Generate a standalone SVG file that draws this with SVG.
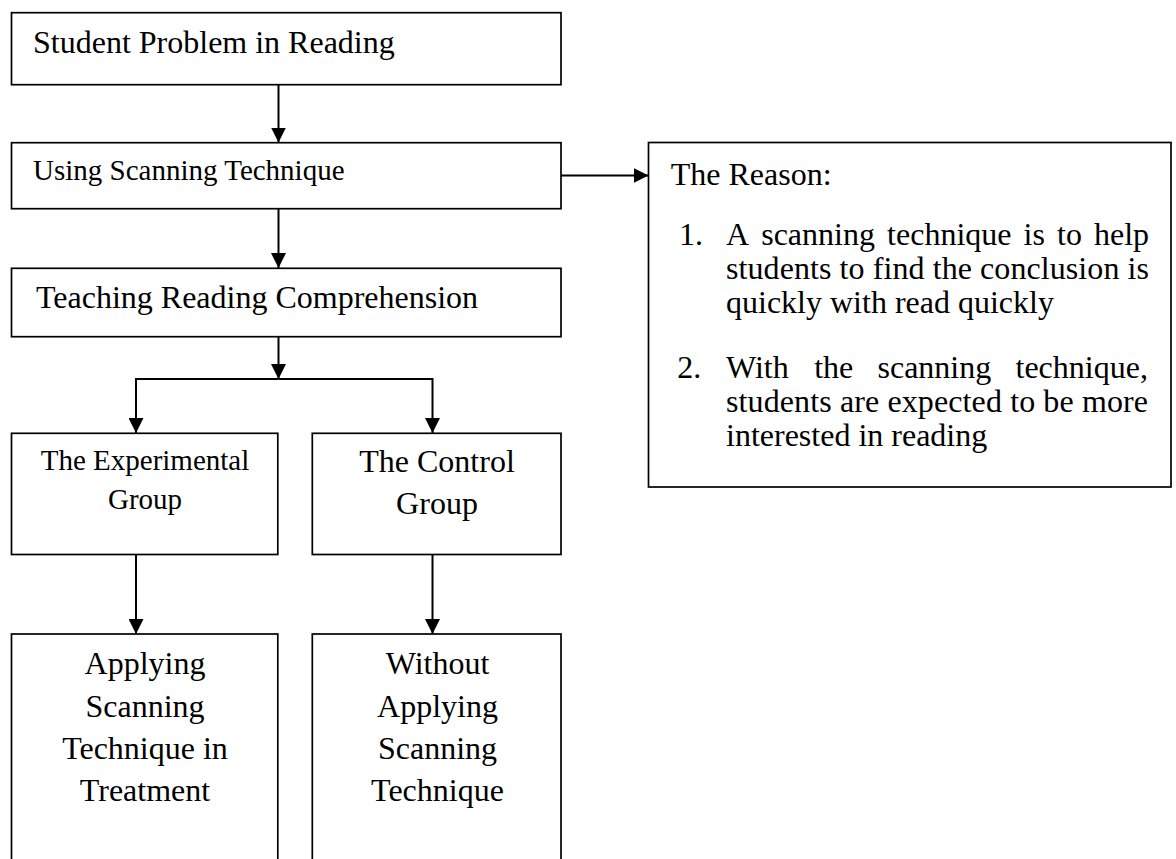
<svg xmlns="http://www.w3.org/2000/svg" width="1176" height="859" viewBox="0 0 1176 859">
<style>
.box{fill:#fff;stroke:#000;stroke-width:1.7}
.con{fill:none;stroke:#000;stroke-width:2}
text{font-family:"Liberation Serif","Times New Roman",serif;fill:#000;font-size:32px}
.s29{font-size:29px}
.c{text-anchor:middle}
</style>
<defs>
<marker id="ah" markerUnits="userSpaceOnUse" markerWidth="16" markerHeight="15" refX="15" refY="7.5" orient="auto">
<path d="M0,0 L15,7.5 L0,15 z" fill="#000"/>
</marker>
</defs>
<rect width="1176" height="859" fill="#fff"/>
<g id="connectors">
<line class="con" x1="278.5" y1="85" x2="278.5" y2="142.5" marker-end="url(#ah)"/>
<line class="con" x1="278.5" y1="209" x2="278.5" y2="268" marker-end="url(#ah)"/>
<line class="con" x1="278.5" y1="337" x2="278.5" y2="379" marker-end="url(#ah)"/>
<path class="con" d="M278.5,379 H136 V433" marker-end="url(#ah)"/>
<path class="con" d="M278.5,379 H432.5 V433" marker-end="url(#ah)"/>
<line class="con" x1="136" y1="555" x2="136" y2="634" marker-end="url(#ah)"/>
<line class="con" x1="432.5" y1="555" x2="432.5" y2="634" marker-end="url(#ah)"/>
<line class="con" x1="561" y1="175.5" x2="648.5" y2="175.5" marker-end="url(#ah)"/>
</g>
<g id="n1">
<rect class="box" x="11.5" y="12.7" width="549.5" height="72"/>
<text x="33" y="53">Student Problem in Reading</text>
</g>
<g id="n2">
<rect class="box" x="11.5" y="142.7" width="549.5" height="66"/>
<text class="s29" x="33" y="180">Using Scanning Technique</text>
</g>
<g id="n3">
<rect class="box" x="11.5" y="268.3" width="549.5" height="68.4"/>
<text x="36" y="308">Teaching Reading Comprehension</text>
</g>
<g id="n4">
<rect class="box" x="11.5" y="433.3" width="266.3" height="121.2"/>
<text class="s29 c" x="145" y="470">The Experimental</text>
<text class="s29 c" x="145" y="509">Group</text>
</g>
<g id="n5">
<rect class="box" x="312.3" y="433.3" width="248.7" height="121.2"/>
<text class="c" x="437" y="472">The Control</text>
<text class="c" x="437" y="514">Group</text>
</g>
<g id="n6">
<rect class="box" x="11.5" y="634" width="266.3" height="300"/>
<text class="c" x="145" y="674">Applying</text>
<text class="c" x="145" y="717">Scanning</text>
<text class="c" x="145" y="759">Technique in</text>
<text class="c" x="145" y="801">Treatment</text>
</g>
<g id="n7">
<rect class="box" x="312.3" y="634" width="248.7" height="300"/>
<text class="c" x="437.5" y="674">Without</text>
<text class="c" x="437.5" y="717">Applying</text>
<text class="c" x="437.5" y="759">Scanning</text>
<text class="c" x="437.5" y="801">Technique</text>
</g>
<g id="n8">
<rect class="box" x="648.5" y="142.5" width="522.5" height="344.5"/>
<text x="670.7" y="185">The Reason:</text>
<text x="679" y="245">1.</text>
<text y="245"><tspan x="726">A</tspan><tspan x="761.2">scanning</tspan><tspan x="887.1">technique</tspan><tspan x="1023.6">is</tspan><tspan x="1057">to</tspan><tspan x="1094">help</tspan></text>
<text x="726" y="279" textLength="423" lengthAdjust="spacing">students to find the conclusion is</text>
<text x="726" y="313">quickly with read quickly</text>
<text x="677.3" y="378">2.</text>
<text y="378"><tspan x="726">With</tspan><tspan x="814.2">the</tspan><tspan x="877.5">scanning</tspan><tspan x="1015.5">technique,</tspan></text>
<text x="726" y="412" textLength="422" lengthAdjust="spacing">students are expected to be more</text>
<text x="726" y="446">interested in reading</text>
</g>
</svg>
